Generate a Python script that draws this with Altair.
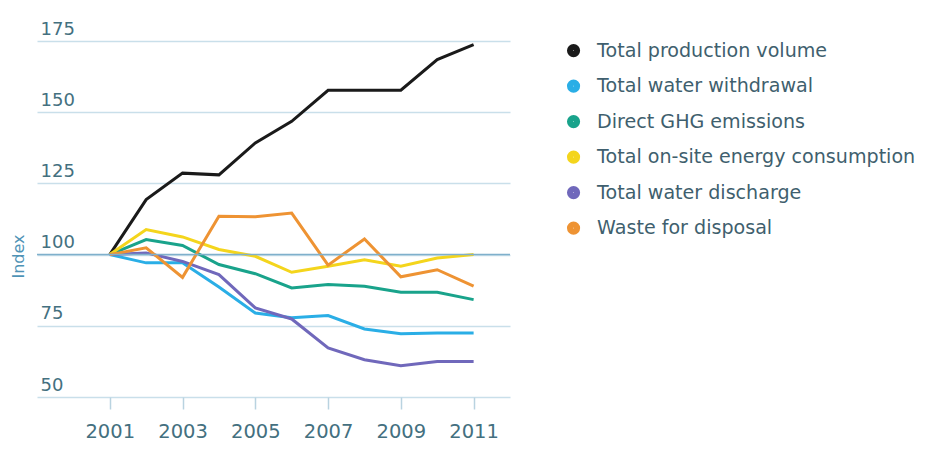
import altair as alt
import pandas as pd

years = list(range(2001, 2012))
series_names = [
    "Total production volume",
    "Total water withdrawal",
    "Direct GHG emissions",
    "Total on-site energy consumption",
    "Total water discharge",
    "Waste for disposal",
]
production = [100, 119.3, 128.6, 128.0, 139.2, 146.8, 157.7, 157.7, 157.7, 168.5, 173.7]
withdrawal = [100, 97.1, 97.1, 88.6, 79.5, 77.8, 78.6, 73.9, 72.2, 72.5, 72.5]
ghg = [100, 105.3, 103.2, 96.5, 93.3, 88.3, 89.5, 88.9, 86.8, 86.8, 84.2]
energy = [100, 108.8, 106.2, 101.8, 99.4, 93.8, 95.9, 98.2, 95.9, 98.8, 100]
discharge = [100, 100.6, 97.6, 93.0, 81.3, 77.4, 67.2, 63.1, 61.0, 62.5, 62.5]
waste = [100, 102.4, 92.0, 113.5, 113.3, 114.6, 96.3, 105.5, 92.2, 94.7, 88.9]
colors = ["#1a1a1a", "#2aaee6", "#19a38b", "#f4d51c", "#7068bb", "#ee9333"]
x_ticks = [2001, 2003, 2005, 2007, 2009, 2011]
y_ticks = [50, 75, 100, 125, 150, 175]

all_series = [production, withdrawal, ghg, energy, discharge, waste]
rows = []
for k, (name, vals) in enumerate(zip(series_names, all_series)):
    for yr, v in zip(years, vals):
        rows.append({"year": yr, "value": v, "series": name, "k": k})
df = pd.DataFrame(rows)

label_color = "#44707f"
font = "DejaVu Sans"

x = alt.X(
    "year:Q",
    scale=alt.Scale(domain=[1999, 2012], nice=False, zero=False),
    axis=alt.Axis(
        values=x_ticks, format="d", grid=False, domain=False,
        tickSize=12, tickColor="#b9d3e0", tickWidth=1.5,
        labelFontSize=19.5, labelColor=label_color, labelFont=font,
        labelPadding=13, title=None,
    ),
)
y = alt.Y(
    "value:Q",
    scale=alt.Scale(domain=[50, 175], nice=False, zero=False),
    axis=alt.Axis(
        values=y_ticks, grid=True, gridColor="#c9dfea", gridWidth=1.5,
        domain=False, ticks=False,
        labelAlign="left", labelBaseline="alphabetic", labelOffset=-7,
        labelPadding=-3, labelFontSize=18, labelColor=label_color, labelFont=font,
        title="Index", titleFont=font, titleFontSize=16, titleFontWeight="normal",
        titleColor="#4f93b6", titleX=-19, titleY=215, titleAngle=-90,
        titleAlign="center", titleBaseline="middle",
    ),
)

ref = alt.Chart(pd.DataFrame({"v": [100]})).mark_rule(
    color="#7fb0cc", strokeWidth=1.5
).encode(y=alt.Y("v:Q", scale=alt.Scale(domain=[50, 175], nice=False, zero=False)))

lines = alt.Chart(df).mark_line(strokeWidth=3).encode(
    x=x,
    y=y,
    color=alt.Color(
        "series:N",
        scale=alt.Scale(domain=series_names, range=colors),
        legend=alt.Legend(
            title=None, orient="none", legendX=527, legendY=0,
            symbolType="circle", symbolSize=38, symbolStrokeWidth=7,
            labelFontSize=19.1, labelColor="#3f5f6e", labelFont=font,
            rowPadding=0.5, labelOffset=14, padding=0, labelLimit=400,
        ),
    ),
    detail="series:N",
    order="k:Q",
)

chart = alt.layer(lines, ref).properties(
    width=473, height=356,
    autosize=alt.AutoSizeParams(type="none"),
    padding={"left": 29, "top": 33, "right": 414, "bottom": 44},
).configure_view(stroke=None)

chart.save("out.html", embed_options={"renderer": "svg", "actions": False})
